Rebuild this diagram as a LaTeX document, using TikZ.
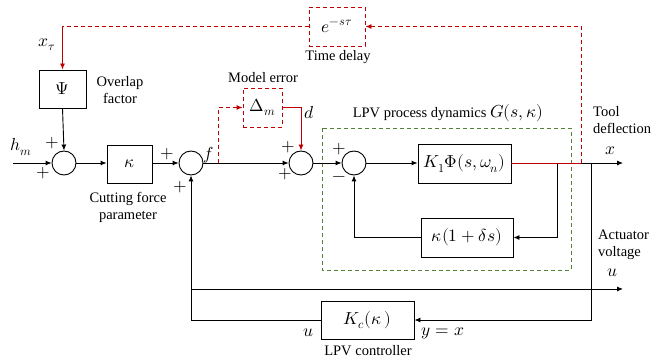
\documentclass[tikz,border=0pt]{standalone}
\usepackage{fontspec}
\usepackage{unicode-math}
\setmainfont{Liberation Serif}
\setmathfont{Latin Modern Math}[Scale=1.2]
\usetikzlibrary{arrows.meta,calc}
\definecolor{dred}{RGB}{192,0,0}
\definecolor{dgreen}{RGB}{84,130,53}
\begin{document}
\begin{tikzpicture}[x=1pt,y=-1pt,
  every node/.style={font=\fontsize{14.5}{17}\selectfont},
  blk/.style={draw,line width=0.9pt,inner sep=0pt},
  sumc/.style={draw,circle,line width=0.9pt,minimum size=24pt,inner sep=0pt},
  lbl/.style={inner sep=0pt},
  conn/.style={line width=0.9pt,-{Latex[length=6pt,width=5pt]}},
  rdash/.style={line width=0.9pt,dred,dash pattern=on 4pt off 3pt},
  rsolid/.style={line width=0.9pt,dred},
  gdash/.style={line width=0.9pt,dgreen,dash pattern=on 4pt off 3pt}]
\useasboundingbox (0,0) rectangle (661,358);
% green box
\draw[gdash] (322,128) rectangle (571,270);
% blocks
\node[blk,minimum width=47pt,minimum height=38pt] (psi) at (62.5,89) {$\Psi$};
\node[sumc] (s1) at (64,163) {};
\node[blk,minimum width=45pt,minimum height=38pt] (kap) at (129.5,164) {$\kappa$};
\node[sumc] (s2) at (191,163) {};
\node[blk,rdash,minimum width=39pt,minimum height=39pt] (dm) at (262.5,107.5) {\textcolor{black}{$\Delta_m$}};
\node[sumc] (s3) at (301,163) {};
\node[sumc] (s4) at (354,163) {};
\node[blk,minimum width=93pt,minimum height=39pt] (k1) at (464.5,163.5) {$K_1\mitPhi(s,\omega_n)$};
\node[blk,minimum width=92pt,minimum height=39pt] (kd) at (467,237.5) {$\kappa(1+\delta s)$};
\node[blk,minimum width=93pt,minimum height=38pt] (kc) at (367.5,320) {$K_c(\kappa\,)$};
\node[blk,rdash,minimum width=56pt,minimum height=39pt] (dl) at (337,26.5) {\textcolor{black}{$e^{-s\tau}$}};
% coordinates
\coordinate (in) at (13,163);
\coordinate (out) at (623,163);
\coordinate (tA) at (557,163);
\coordinate (tB) at (581,163);
\coordinate (tC) at (591,163);
\coordinate (fb) at (218,163);
\coordinate (corner) at (62.5,26.5);
\coordinate (av) at (191,289);
\coordinate (avend) at (623,289);
% main path
\draw[conn] (in) -- (s1.west);
\draw[conn] (s1.east) -- (kap.west |- s1.east);
\draw[conn] (kap.east |- s2.west) -- (s2.west);
\draw[conn] (s2.east) -- (s3.west);
\draw[conn] (s3.east) -- (s4.west);
\draw[conn] (s4.east) -- (k1.west |- s4.east);
\draw[conn] (k1.east |- out) -- (out);
\draw[conn] (psi.south) -- (s1.north);
% inner feedback
\draw[conn] (tA) |- (kd.east);
\draw[conn] (kd.west) -| (s4.south);
% controller loop
\draw[conn] (tC) |- (kc.east);
\draw[conn] (kc.west) -| (s2.south);
\draw[conn] (av) -- (avend);
% red paths
\draw[rsolid] (k1.east |- tB) -- (tB);
\draw[rdash,-{Latex[length=6pt,width=5pt]}] (tB) |- (dl.east);
\draw[rdash] (dl.west) -- (corner);
\draw[rsolid,-{Latex[length=6pt,width=5pt]}] (corner) -- (psi.north);
\draw[rdash,-{Latex[length=6pt,width=5pt]}] (fb) |- (dm.west);
\draw[rsolid,-{Latex[length=6pt,width=5pt]}] (dm.east) -| (s3.north);
% labels
\node[lbl] (lxt) at (47,45) {$x_\tau$};
\node[lbl] (lhm) at (21,147) {$h_m$};
\node[lbl] (p1) at (52,143) {$+$};
\node[lbl] (p2) at (43,173) {$+$};
\node[lbl] (p3) at (167,154) {$+$};
\node[lbl] (p4) at (180,187) {$+$};
\node[lbl] (p5) at (288,147) {$+$};
\node[lbl] (p6) at (285,174) {$+$};
\node[lbl] (p7) at (339,149) {$+$};
\node[lbl] (m7) at (339,179) {$-$};
\node[lbl] (lf) at (209,155) {$f$};
\node[lbl] (ld) at (309,113) {$d$};
\node[lbl,align=center] (lov) at (120,90) {Overlap\\factor};
\node[lbl,align=center] (lcf) at (128,207.5) {Cutting force\\parameter};
\node[lbl] (lme) at (263,78) {Model error};
\node[lbl] (ltd) at (338,57) {Time delay};
\node[lbl] (llpv) at (448,113) {LPV process dynamics $G(s,\kappa)$};
\node[lbl,align=left,anchor=west] (ltool) at (593,120) {Tool\\deflection};
\node[lbl] (lx) at (610,151) {$x$};
\node[lbl,align=left,anchor=west] (lact) at (598,245) {Actuator\\voltage};
\node[lbl] (lu) at (612,273) {$u$};
\node[lbl] (lu2) at (308,333) {$u$};
\node[lbl] (lyx) at (443,333) {$y=x$};
\node[lbl] (lctl) at (368,351) {LPV controller};
\end{tikzpicture}
\end{document}
